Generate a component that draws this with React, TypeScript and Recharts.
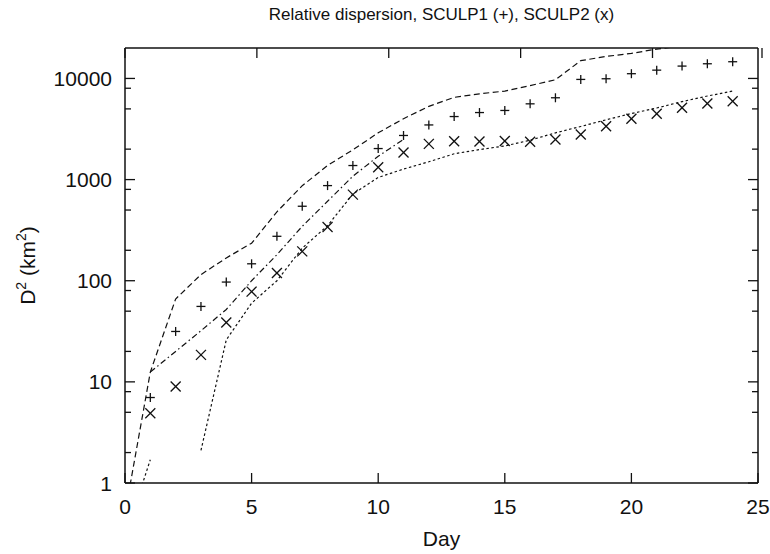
import { ComposedChart, Line, Scatter, XAxis, YAxis, Label } from "recharts";

// day index 0..24
const days = [0, 1, 2, 3, 4, 5, 6, 7, 8, 9, 10, 11, 12, 13, 14, 15, 16, 17, 18, 19, 20, 21, 22, 23, 24];

// dashed upper envelope
const upperBound = [0.5, 12.5, 66, 115, 168, 235, 480, 870, 1380, 1970, 2900, 4000, 5300, 6500, 7050, 7500, 8500, 9700, 15000, 16500, 17700, 19500, 21000, 22000, 23000];
// dotted lower envelope (no value at day 2)
const lowerBound = [0.29, 1.7, null, 2.1, 26, 60, 100, 210, 350, 720, 1050, 1270, 1500, 1800, 1980, 2150, 2450, 2900, 3350, 3900, 4500, 5100, 5900, 6700, 7500];
// dash-dot curve, days 1..11
const midCurve = [null, 12.5, 20, 32, 52, 100, 181, 345, 610, 1080, 1700, 2500, null, null, null, null, null, null, null, null, null, null, null, null, null];

const sculp1 = [null, 7, 31.5, 55.7, 97, 147, 275, 545, 872, 1377, 2027, 2730, 3470, 4200, 4600, 4824, 5610, 6440, 9780, 9930, 11140, 12080, 13250, 13970, 14630];
const sculp2 = [null, 4.9, 9, 18.5, 38.6, 78, 119, 195, 340, 710, 1324, 1850, 2255, 2393, 2380, 2410, 2370, 2490, 2790, 3372, 3990, 4470, 5130, 5650, 5960];

const xTicks = [0, 5, 10, 15, 20, 25];
const yTicks = [1, 2, 5, 8, 10, 20, 50, 80, 100, 200, 500, 800, 1000, 2000, 5000, 8000, 10000];

const FONT = '"Liberation Sans", Arial, Helvetica, sans-serif';
const INK = "#111";

const lineData = days.map((d, i) => ({ day: d, upper: upperBound[i], lower: lowerBound[i], mid: midCurve[i] }));
const s1Data = days.map((d, i) => ({ day: d, v: sculp1[i] })).filter((p) => p.v != null);
const s2Data = days.map((d, i) => ({ day: d, v: sculp2[i] })).filter((p) => p.v != null);

const isMajor = (v: number) => Math.abs(Math.log10(v) - Math.round(Math.log10(v))) < 1e-9;

function LeftTick({ x, y, payload }: any) {
  const major = isMajor(payload.value);
  return (
    <g>
      <line x1={x} x2={x + (major ? 10 : 6)} y1={y} y2={y} stroke={INK} strokeWidth={1.3} />
      {major && (
        <text x={x - 13} y={y} dy="0.36em" textAnchor="end" fontSize={21} fontFamily={FONT} fill={INK}>
          {payload.value}
        </text>
      )}
    </g>
  );
}

function RightTick({ x, y, payload }: any) {
  const major = isMajor(payload.value);
  return <line x1={x} x2={x - (major ? 10 : 6)} y1={y} y2={y} stroke={INK} strokeWidth={1.3} />;
}

function BottomTick({ x, y, payload }: any) {
  return (
    <g>
      <line x1={x} x2={x} y1={y} y2={y - 10} stroke={INK} strokeWidth={1.3} />
      <text x={x} y={y + 31} textAnchor="middle" fontSize={21} fontFamily={FONT} fill={INK}>
        {payload.value}
      </text>
    </g>
  );
}

function TopTick({ x, y }: any) {
  return <line x1={x} x2={x} y1={y} y2={y + 10} stroke={INK} strokeWidth={1.3} />;
}

function Plus({ cx, cy }: any) {
  const r = 4.5;
  return (
    <g stroke={INK} strokeWidth={1.3}>
      <line x1={cx - r} x2={cx + r} y1={cy} y2={cy} />
      <line x1={cx} x2={cx} y1={cy - r} y2={cy + r} />
    </g>
  );
}

function Cross({ cx, cy }: any) {
  const r = 5;
  return (
    <g stroke={INK} strokeWidth={1.3}>
      <line x1={cx - r} x2={cx + r} y1={cy - r} y2={cy + r} />
      <line x1={cx - r} x2={cx + r} y1={cy + r} y2={cy - r} />
    </g>
  );
}

function TitleLabel({ viewBox }: any) {
  return (
    <text x={viewBox.x + viewBox.width / 2} y={20} textAnchor="middle" fontSize={17} fontFamily={FONT} fill={INK}>
      Relative dispersion, SCULP1 (+), SCULP2 (x)
    </text>
  );
}

function YTitle({ viewBox }: any) {
  const cx = 35;
  const cy = viewBox.y + viewBox.height / 2;
  return (
    <text transform={`rotate(-90, ${cx}, ${cy})`} x={cx} y={cy} textAnchor="middle" fontSize={21} fontFamily={FONT} fill={INK}>
      D<tspan fontSize={14} dy={-9}>2</tspan>
      <tspan dy={9}> (km</tspan>
      <tspan fontSize={14} dy={-9}>2</tspan>
      <tspan dy={9}>)</tspan>
    </text>
  );
}

export default function App() {
  return (
    <div style={{ position: "absolute", left: 0, top: 0, width: 770, height: 554, background: "#fff" }}>
      <ComposedChart width={770} height={554} data={lineData} margin={{ top: 0, right: 0, bottom: 0, left: 0 }}>
        <XAxis
          dataKey="day"
          type="number"
          domain={[0, 25]}
          ticks={xTicks}
          allowDataOverflow
          height={71}
          tickSize={0}
          tickMargin={0}
          tickLine={false}
          axisLine={{ stroke: INK, strokeWidth: 1.5 }}
          tick={BottomTick}
        >
          <Label value="Day" position="insideBottom" offset={8} fontSize={21} fontFamily={FONT} fill={INK} />
        </XAxis>
        <XAxis
          xAxisId="t"
          orientation="top"
          type="number"
          domain={[0, 25]}
          ticks={xTicks}
          allowDataOverflow
          height={48}
          tickSize={0}
          tickMargin={0}
          tickLine={false}
          axisLine={{ stroke: INK, strokeWidth: 1.5 }}
          tick={TopTick}
        >
          <Label content={TitleLabel} />
        </XAxis>
        <YAxis
          scale="log"
          type="number"
          domain={[1, 20000]}
          ticks={yTicks}
          allowDataOverflow
          width={125}
          tickSize={0}
          tickMargin={0}
          tickLine={false}
          axisLine={{ stroke: INK, strokeWidth: 1.5 }}
          tick={LeftTick}
          interval={0}
        >
          <Label content={YTitle} />
        </YAxis>
        <YAxis
          yAxisId="r"
          orientation="right"
          scale="log"
          type="number"
          domain={[1, 20000]}
          ticks={yTicks}
          allowDataOverflow
          width={12}
          tickSize={0}
          tickMargin={0}
          tickLine={false}
          axisLine={{ stroke: INK, strokeWidth: 1.5 }}
          tick={RightTick}
          interval={0}
        />
        <Line dataKey="upper" type="linear" stroke={INK} strokeWidth={1.2} strokeDasharray="6 3.5" dot={false} activeDot={false} isAnimationActive={false} />
        <Line dataKey="lower" type="linear" stroke={INK} strokeWidth={1.2} strokeDasharray="2.5 2.5" dot={false} activeDot={false} isAnimationActive={false} />
        <Line dataKey="mid" type="linear" stroke={INK} strokeWidth={1.2} strokeDasharray="6 3 1.5 3" dot={false} activeDot={false} isAnimationActive={false} />
        <Scatter data={s1Data} dataKey="v" shape={Plus} isAnimationActive={false} />
        <Scatter data={s2Data} dataKey="v" shape={Cross} isAnimationActive={false} />
      </ComposedChart>
    </div>
  );
}
